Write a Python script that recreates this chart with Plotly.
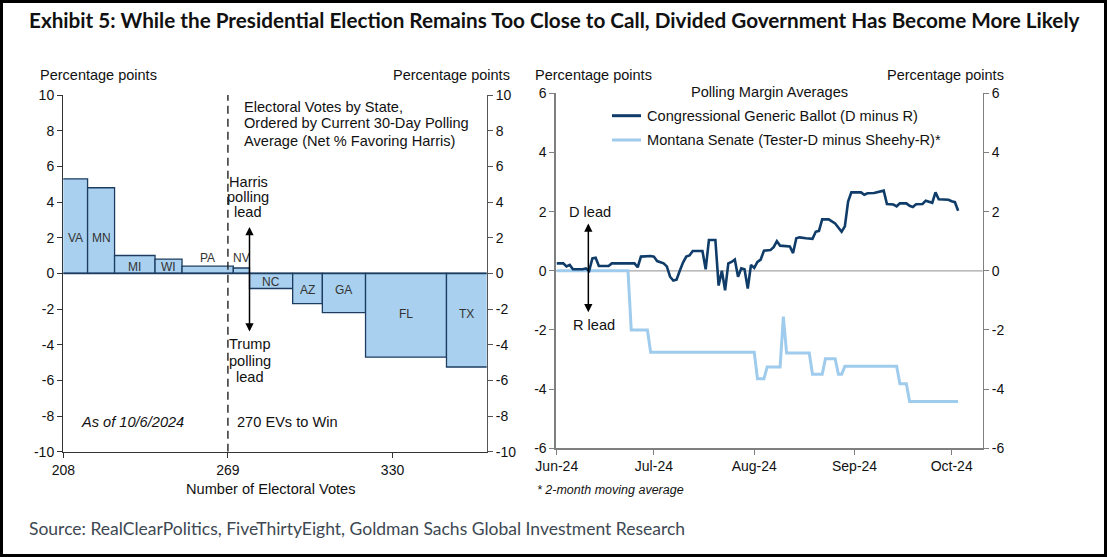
import plotly.graph_objects as go

W, H = 1107, 557

# ---------------- Data: left chart (electoral votes) ----------------
states = ["VA", "MN", "MI", "WI", "PA", "NV", "NC", "AZ", "GA", "FL", "TX"]
electoral_votes = [13, 10, 15, 10, 19, 6, 16, 11, 16, 30, 40]
net_margin = [5.3, 4.8, 1.0, 0.8, 0.4, 0.3, -0.85, -1.7, -2.2, -4.7, -5.25]
ev_base = 204          # cumulative EVs before VA
ev_ticks = [208, 269, 330]
ev_to_win_line = 269
left_y_ticks = [-10, -8, -6, -4, -2, 0, 2, 4, 6, 8, 10]

# ---------------- Data: right chart (polling margin averages) -------
generic_dates = [
    "2024-06-01", "2024-06-03", "2024-06-04", "2024-06-05", "2024-06-06", "2024-06-09",
    "2024-06-10", "2024-06-11", "2024-06-12", "2024-06-13", "2024-06-14", "2024-06-17",
    "2024-06-18", "2024-06-25", "2024-06-26", "2024-06-27", "2024-06-30", "2024-07-01",
    "2024-07-02", "2024-07-04", "2024-07-05", "2024-07-06", "2024-07-07", "2024-07-08",
    "2024-07-09", "2024-07-10", "2024-07-11", "2024-07-12", "2024-07-13", "2024-07-16",
    "2024-07-17", "2024-07-18", "2024-07-20", "2024-07-21", "2024-07-22", "2024-07-23",
    "2024-07-24", "2024-07-25", "2024-07-26", "2024-07-27", "2024-07-28", "2024-07-29",
    "2024-07-30", "2024-07-31", "2024-08-01", "2024-08-02", "2024-08-03", "2024-08-04",
    "2024-08-06", "2024-08-07", "2024-08-08", "2024-08-09", "2024-08-12", "2024-08-13",
    "2024-08-14", "2024-08-15", "2024-08-17", "2024-08-19", "2024-08-20", "2024-08-21",
    "2024-08-22", "2024-08-24", "2024-08-26", "2024-08-27", "2024-08-28", "2024-08-29",
    "2024-08-30", "2024-08-31", "2024-09-03", "2024-09-04", "2024-09-05", "2024-09-07",
    "2024-09-09", "2024-09-10", "2024-09-11", "2024-09-13", "2024-09-14", "2024-09-15",
    "2024-09-17", "2024-09-18", "2024-09-19", "2024-09-20", "2024-09-22", "2024-09-23",
    "2024-09-25", "2024-09-26", "2024-09-27", "2024-09-30", "2024-10-01", "2024-10-02",
    "2024-10-03",
]
generic_values = [
    0.25, 0.25, 0.15, 0.20, 0.05, 0.05,
    0.08, 0.00, 0.42, 0.44, 0.16, 0.16,
    0.25, 0.25, 0.12, 0.48, 0.50, 0.48,
    0.33, 0.25, 0.15, -0.20, -0.33, -0.30,
    0.00, 0.28, 0.48, 0.52, 0.67, 0.67,
    0.05, 1.04, 1.04, -0.50, 0.00, -0.66,
    0.25, 0.30, 0.38, -0.20, 0.08, 0.05,
    -0.60, 0.20, 0.10, 0.30, 0.38, 0.68,
    0.70, 0.80, 1.00, 0.85, 0.82, 0.60,
    1.10, 1.13, 1.10, 1.08, 1.32, 1.35,
    1.74, 1.74, 1.60, 1.45, 1.32, 1.50,
    2.34, 2.65, 2.65, 2.57, 2.62, 2.63,
    2.68, 2.71, 2.26, 2.24, 2.18, 2.28,
    2.28, 2.20, 2.16, 2.25, 2.26, 2.37,
    2.30, 2.65, 2.42, 2.40, 2.35, 2.32,
    2.03,
]
montana_dates = [
    "2024-06-01", "2024-06-23", "2024-06-24", "2024-06-29", "2024-06-30", "2024-08-01",
    "2024-08-02", "2024-08-04", "2024-08-05", "2024-08-09", "2024-08-10", "2024-08-11",
    "2024-08-18", "2024-08-19", "2024-08-22", "2024-08-23", "2024-08-26", "2024-08-27",
    "2024-08-28", "2024-08-29", "2024-09-14", "2024-09-15", "2024-09-17", "2024-09-18",
    "2024-10-03",
]
montana_values = [
    0.0, 0.0, -2.0, -2.0, -2.75, -2.75,
    -3.65, -3.65, -3.25, -3.25, -1.55, -2.78,
    -2.78, -3.5, -3.5, -2.97, -2.97, -3.5,
    -3.5, -3.23, -3.23, -3.82, -3.82, -4.42,
    -4.42,
]
month_ticks = ["2024-06-01", "2024-07-01", "2024-08-01", "2024-09-01", "2024-10-01"]
month_labels = ["Jun-24", "Jul-24", "Aug-24", "Sep-24", "Oct-24"]
right_y_ticks = [-6, -4, -2, 0, 2, 4, 6]

# ---------------- Styling ----------------
BODY = "Liberation Sans, Arial, sans-serif"
HEAD = "Lato, Roboto, sans-serif"
BAR_FILL = "#a9d0ef"
BAR_LINE = "#1c3d60"
NAVY = "#0f3c68"
LIGHT = "#9fcbec"
TXT = "#111111"
FS = 14       # tick labels
FT = 14.6     # annotation texts


def px(x):
    return x / W


def py(y):
    return 1 - y / H


def tick_text(vals):
    return [str(v) for v in vals]   # plain hyphen minus, as in the reference


# ---------------- Build figure ----------------
fig = go.Figure()

starts = []
acc = ev_base
for ev in electoral_votes:
    starts.append(acc)
    acc += ev
centers = [s + ev / 2 for s, ev in zip(starts, electoral_votes)]

X_MAX = 364.9
fig.add_trace(go.Bar(
    x=centers, y=net_margin, width=electoral_votes,
    marker=dict(color=BAR_FILL, line=dict(color=BAR_LINE, width=1.3)),
    xaxis="x", yaxis="y", showlegend=False, hoverinfo="skip",
))
fig.add_trace(go.Scatter(x=[208], y=[0], xaxis="x", yaxis="y2", mode="markers",
                         marker=dict(opacity=0), showlegend=False, hoverinfo="skip"))

fig.add_trace(go.Scatter(
    x=montana_dates, y=montana_values, mode="lines",
    line=dict(color=LIGHT, width=3),
    xaxis="x3", yaxis="y3", showlegend=False, hoverinfo="skip",
))
fig.add_trace(go.Scatter(
    x=generic_dates, y=generic_values, mode="lines",
    line=dict(color=NAVY, width=2.6),
    xaxis="x3", yaxis="y3", showlegend=False, hoverinfo="skip",
))
fig.add_trace(go.Scatter(x=["2024-06-01"], y=[0], xaxis="x3", yaxis="y4", mode="markers",
                         marker=dict(opacity=0), showlegend=False, hoverinfo="skip"))

tickfont = dict(family=BODY, size=FS, color=TXT)
L_DOM_X = [px(63.3), px(486.7)]
L_DOM_Y = [py(451.7), py(95)]
R_DOM_X = [px(555.7), px(982.7)]
R_DOM_Y = [py(448.3), py(93.3)]

axis_common = dict(showgrid=False, zeroline=False, showline=True, ticks="outside",
                   ticklen=5, tickfont=tickfont, automargin=False)

fig.update_layout(
    width=W, height=H,
    autosize=False,
    margin=dict(l=0, r=0, t=0, b=0, pad=0, autoexpand=False),
    paper_bgcolor="white", plot_bgcolor="white",
    bargap=0,
    xaxis=dict(domain=L_DOM_X, range=[208, X_MAX], tickvals=ev_ticks, anchor="y",
               linecolor="#333333", tickcolor="#333333", linewidth=1.3, **axis_common),
    yaxis=dict(domain=L_DOM_Y, range=[-10, 10], tickvals=left_y_ticks,
               ticktext=tick_text(left_y_ticks), anchor="x",
               linecolor="#333333", tickcolor="#333333", linewidth=1.3, **axis_common),
    yaxis2=dict(range=[-10, 10], tickvals=left_y_ticks, ticktext=tick_text(left_y_ticks),
                overlaying="y", side="right", anchor="x",
                linecolor="#555555", tickcolor="#555555", linewidth=1.3, **axis_common),
    xaxis3=dict(domain=R_DOM_X, type="date",
                range=["2024-05-31 16:00", "2024-10-10 14:00"],
                tickvals=month_ticks, ticktext=month_labels, anchor="y3",
                linecolor="#7f7f7f", tickcolor="#7f7f7f", linewidth=1.3, **axis_common),
    yaxis3=dict(domain=R_DOM_Y, range=[-6, 6], tickvals=right_y_ticks,
                ticktext=tick_text(right_y_ticks), anchor="x3",
                linecolor="#7f7f7f", tickcolor="#7f7f7f", linewidth=1.3, **axis_common),
    yaxis4=dict(range=[-6, 6], tickvals=right_y_ticks, ticktext=tick_text(right_y_ticks),
                overlaying="y3", side="right", anchor="x3",
                linecolor="#7f7f7f", tickcolor="#7f7f7f", linewidth=1.3, **axis_common),
)

shapes = []
annotations = []

shapes.append(dict(type="line", xref="x", yref="y", x0=208, x1=X_MAX, y0=0, y1=0,
                   line=dict(color=BAR_LINE, width=1.6), layer="above"))
shapes.append(dict(type="line", xref="x", yref="y", x0=ev_to_win_line, x1=ev_to_win_line,
                   y0=-10, y1=10, line=dict(color="#222222", width=1.4, dash="8px,5px"),
                   layer="above"))

shapes.append(dict(type="line", xref="paper", yref="y3", x0=R_DOM_X[0], x1=R_DOM_X[1],
                   y0=0, y1=0, line=dict(color="#a6a6a6", width=1.2), layer="below"))

shapes.append(dict(type="line", xref="paper", yref="paper", x0=px(612), x1=px(641),
                   y0=py(115.7), y1=py(115.7), line=dict(color=NAVY, width=3)))
shapes.append(dict(type="line", xref="paper", yref="paper", x0=px(612), x1=px(641),
                   y0=py(140), y1=py(140), line=dict(color=LIGHT, width=3)))

shapes.append(dict(type="rect", xref="paper", yref="paper", x0=px(1.5), x1=px(W - 1.5),
                   y0=py(H - 1.5), y1=py(1.5), line=dict(color="#000000", width=3)))

label_y = {"VA": 2.0, "MN": 2.0, "MI": 0.35, "WI": 0.35, "PA": 0.85, "NV": 0.85,
           "NC": -0.5, "AZ": -0.95, "GA": -0.95, "FL": -2.3, "TX": -2.3}
for st, s, ev in zip(states, starts, electoral_votes):
    lo, hi = max(s, 208), min(s + ev, X_MAX)
    annotations.append(dict(x=(lo + hi) / 2, y=label_y[st], xref="x", yref="y", text=st,
                            showarrow=False, font=dict(family=BODY, size=12, color="#333333")))


def txt(x, y, text, size=FT, anchor="left", italic=False, color=TXT, family=BODY, bold=False):
    t = text
    if italic:
        t = "<i>" + t + "</i>"
    if bold:
        t = "<b>" + t + "</b>"
    annotations.append(dict(x=px(x), y=py(y), xref="paper", yref="paper", text=t,
                            showarrow=False, xanchor=anchor, yanchor="middle",
                            font=dict(family=family, size=size, color=color)))


txt(27, 20, "Exhibit 5: While the Presidential Election Remains Too Close to Call, Divided Government Has Become More Likely",
    size=20.7, family=HEAD, bold=True, color="#111111")
txt(27, 528, "Source: RealClearPolitics, FiveThirtyEight, Goldman Sachs Global Investment Research",
    size=17.5, family=HEAD, color="#3d4852")

txt(38, 75, "Percentage points", size=14.5)
txt(512, 75, "Percentage points", anchor="right", size=14.5)
txt(242, 106.7, "Electoral Votes by State,")
txt(242, 123.5, "Ordered by Current 30-Day Polling")
txt(242, 141, "Average (Net % Favoring Harris)")
for yy, t in [(181.7, "Harris"), (197, "polling"), (212.3, "lead")]:
    txt(248, yy, t, anchor="center")
for yy, t in [(344, "Trump"), (361, "polling"), (376.7, "lead")]:
    txt(250, yy, t, anchor="center")
txt(132.5, 421.5, "As of 10/6/2024", italic=True, anchor="center")
txt(287.7, 421.5, "270 EVs to Win", anchor="center")
txt(271.3, 489, "Number of Electoral Votes", anchor="center")

nv_end = starts[5] + electoral_votes[5]
annotations.append(dict(x=nv_end, y=2.6, ax=nv_end, ay=-3.35, xref="x", yref="y",
                        axref="x", ayref="y", text="", showarrow=True, arrowhead=2,
                        arrowside="end+start", arrowsize=1.1, arrowwidth=1.5,
                        arrowcolor="#000000"))

txt(533, 75, "Percentage points", size=14.5)
txt(1006, 75, "Percentage points", anchor="right", size=14.5)
txt(769, 92, "Polling Margin Averages", anchor="center")
txt(645, 115.7, "Congressional Generic Ballot (D minus R)")
txt(645, 140, "Montana Senate (Tester-D minus Sheehy-R)*")
txt(590, 211.7, "D lead", anchor="center")
txt(593.7, 325, "R lead", anchor="center")
txt(535, 490, "* 2-month moving average", size=12.5, italic=True)

annotations.append(dict(x="2024-06-10 18:00", y=1.6, ax="2024-06-10 18:00", ay=-1.45,
                        xref="x3", yref="y3", axref="x3", ayref="y3", text="",
                        showarrow=True, arrowhead=2, arrowside="end+start", arrowsize=1.1,
                        arrowwidth=1.5, arrowcolor="#000000"))

fig.update_layout(shapes=shapes, annotations=annotations)
fig.write_html(
    "out.html",
    config={"displayModeBar": False, "staticPlot": True},
    post_script="document.body.style.margin='0';document.body.style.padding='0';"
                "document.documentElement.style.overflow='hidden';",
)
